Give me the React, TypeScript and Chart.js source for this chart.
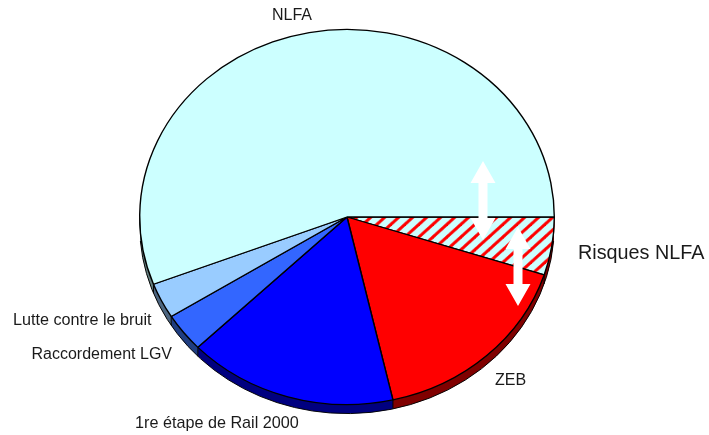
import React, { useEffect, useRef } from "react";
import { Chart, registerables } from "chart.js";

Chart.register(...registerables);

const categories = ["Risques NLFA", "ZEB", "1re étape de Rail 2000", "Raccordement LGV", "Lutte contre le bruit", "NLFA"];
const values = [18, 59.2, 58.8, 12, 11, 201];
const sliceColors = ["#ff0000", "#ff0000", "#0000ff", "#3366ff", "#99ccff", "#ccffff"];
const depthColors = ["#7f0000", "#800000", "#000080", "#1f3d80", "#4d6680", "#668080"];
const labelItems: [string, number, number, number][] = [
  ["NLFA", 272, 20, 16],
  ["Risques NLFA", 578, 259, 19.8],
  ["ZEB", 495, 385, 16],
  ["Lutte contre le bruit", 13, 324.5, 16.2],
  ["Raccordement LGV", 31.5, 358.5, 16],
  ["1re étape de Rail 2000", 135, 428, 16.2],
];
const arrowItems: [number, number, number][] = [
  [483, 161, 240],
  [518, 227, 306],
];
const squash = 0.905;
const depth = 9;

function hatch(): CanvasPattern | string {
  const size = 14;
  const c = document.createElement("canvas");
  c.width = size;
  c.height = size;
  const g = c.getContext("2d")!;
  g.fillStyle = "#ccffff";
  g.fillRect(0, 0, size, size);
  g.strokeStyle = "#ff0000";
  g.lineWidth = 3.2;
  for (const o of [-size, 0, size]) {
    g.beginPath();
    g.moveTo(o - 2, size + 2);
    g.lineTo(o + size + 2, -2);
    g.stroke();
  }
  return g.createPattern(c, "repeat") ?? "#ff0000";
}

function squashAround(ctx: CanvasRenderingContext2D, x: number, y: number) {
  ctx.translate(x, y);
  ctx.scale(1, squash);
  ctx.translate(-x, -y);
}

const pie3d = {
  id: "pie3d",
  beforeDatasetsDraw(chart: any) {
    const ctx: CanvasRenderingContext2D = chart.ctx;
    const arcs = chart.getDatasetMeta(0).data;
    const { x, y } = arcs[0];
    ctx.save();
    squashAround(ctx, x, y);
    for (let d = depth; d >= 1; d--) {
      arcs.forEach((a: any, i: number) => {
        ctx.beginPath();
        ctx.moveTo(x, y + d / squash);
        ctx.arc(x, y + d / squash, a.outerRadius, a.startAngle, a.endAngle);
        ctx.closePath();
        ctx.fillStyle = depthColors[i];
        ctx.fill();
      });
    }
    ctx.strokeStyle = "#000000";
    ctx.lineWidth = 1;
    arcs.forEach((a: any) => {
      const sx = x + a.outerRadius * Math.cos(a.endAngle);
      const sy = y + a.outerRadius * Math.sin(a.endAngle);
      if (Math.sin(a.endAngle) > 0.05) {
        ctx.beginPath();
        ctx.moveTo(sx, sy);
        ctx.lineTo(sx, sy + depth / squash);
        ctx.stroke();
      }
    });
    ctx.beginPath();
    ctx.arc(x, y + depth / squash, arcs[0].outerRadius, 0.08, Math.PI - 0.08);
    ctx.stroke();
    ctx.restore();
    ctx.save();
    squashAround(ctx, x, y);
  },
  afterDatasetsDraw(chart: any) {
    const ctx: CanvasRenderingContext2D = chart.ctx;
    ctx.restore();
    ctx.fillStyle = "#ffffff";
    for (const [ax, top, bottom] of arrowItems) {
      ctx.beginPath();
      ctx.moveTo(ax, top);
      ctx.lineTo(ax + 12.5, top + 22);
      ctx.lineTo(ax + 4.5, top + 22);
      ctx.lineTo(ax + 4.5, bottom - 22);
      ctx.lineTo(ax + 12.5, bottom - 22);
      ctx.lineTo(ax, bottom);
      ctx.lineTo(ax - 12.5, bottom - 22);
      ctx.lineTo(ax - 4.5, bottom - 22);
      ctx.lineTo(ax - 4.5, top + 22);
      ctx.lineTo(ax - 12.5, top + 22);
      ctx.closePath();
      ctx.fill();
    }
    ctx.fillStyle = "#1a1a1a";
    ctx.textAlign = "left";
    ctx.textBaseline = "alphabetic";
    for (const [text, lx, ly, size] of labelItems) {
      ctx.font = `${size}px "Liberation Sans", Arial, sans-serif`;
      ctx.fillText(text, lx, ly);
    }
  },
};

export default function App() {
  const ref = useRef<HTMLCanvasElement | null>(null);
  useEffect(() => {
    const colors = sliceColors.map((c, i) => (i === 0 ? hatch() : c));
    const chart = new Chart(ref.current!, {
      type: "pie",
      data: {
        labels: categories,
        datasets: [{ data: values, backgroundColor: colors as any, borderColor: "#000000", borderWidth: 1.4, clip: false as any }],
      },
      options: {
        animation: false,
        responsive: false,
        rotation: 90,
        layout: { padding: { left: 139, right: 154, top: 9, bottom: 10 } },
        plugins: { legend: { display: false }, tooltip: { enabled: false } },
      },
      plugins: [pie3d as any],
    });
    return () => chart.destroy();
  }, []);
  return (
    <div style={{ position: "fixed", left: 0, top: 0, width: 709, height: 435, background: "#ffffff" }}>
      <canvas ref={ref} width={709} height={435} style={{ display: "block", width: 709, height: 435 }} />
    </div>
  );
}
